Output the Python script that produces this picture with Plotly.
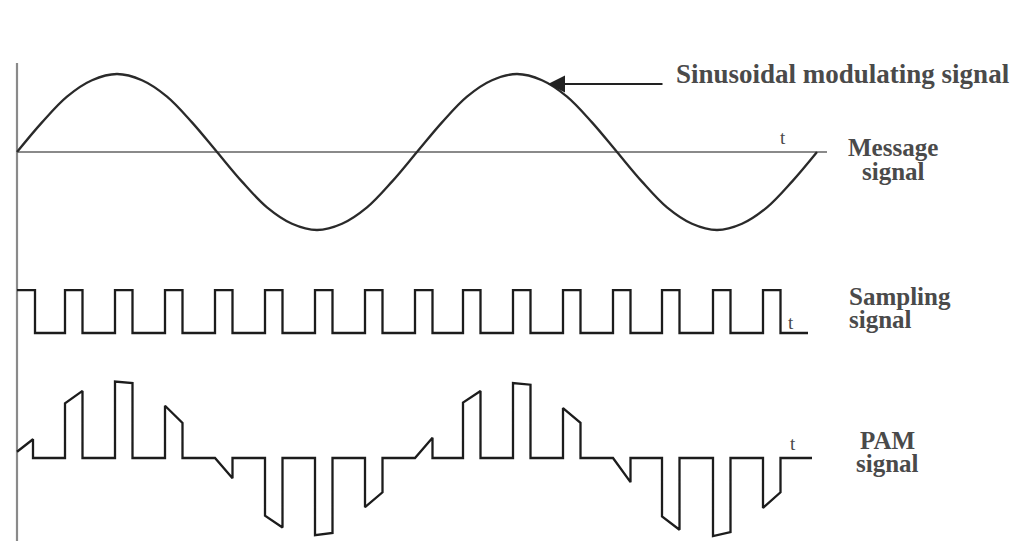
import plotly.graph_objects as go

# ---- data (time in sampling periods, amplitude in units of message peak) ----
MSG_T = [0, 0.5, 1, 1.5, 2, 2.5, 3, 3.5, 4, 4.5, 5, 5.5, 6, 6.5, 7, 7.5, 8,
         8.5, 9, 9.5, 10, 10.5, 11, 11.5, 12, 12.5, 13, 13.5, 14, 14.5, 15, 15.5, 16]
MSG_V = [0, 0.38, 0.71, 0.92, 1.0, 0.92, 0.71, 0.38, 0, -0.38, -0.71, -0.92, -1.0,
         -0.92, -0.71, -0.38, 0, 0.38, 0.71, 0.92, 1.0, 0.92, 0.71, 0.38, 0,
         -0.38, -0.71, -0.92, -1.0, -0.92, -0.71, -0.38, 0]

PULSE_START = [0, 0.96, 1.96, 2.96, 3.96, 4.96, 5.96, 6.96, 7.96, 8.92,
               9.92, 10.92, 11.92, 12.9, 13.92, 14.92]
PULSE_WIDTH = 0.35
SAMPLING_HIGH = 0.55
SAMPLING_END = 15.82

PAM_TOP_START = [0.08, 0.70, 0.98, 0.67, 0.0, -0.74, -0.99, -0.63,
                 0.0, 0.71, 0.96, 0.64, 0.0, -0.75, -1.0, -0.64]
PAM_TOP_END = [0.24, 0.86, 0.96, 0.45, -0.26, -0.89, -0.96, -0.44,
               0.26, 0.86, 0.94, 0.45, -0.31, -0.92, -0.95, -0.44]
PAM_END = 15.9

# ---- layout helpers ----
W, H = 1013, 541
PX_PER_T = 50.0
PX_PER_A = 78.0
X0_PX = 17
def tx(px):
    return (px - X0_PX) / PX_PER_T
def ay(py):
    return -py / PX_PER_A

MSG_OFF = ay(152)
SAMP_OFF = ay(333)
PAM_OFF = ay(458)

INK = "#1c1c1c"
GREY = "#8a8a8a"
TXT = "#4a4a4a"
SERIF = "Liberation Serif, Times New Roman, serif"

fig = go.Figure()

# vertical axis
fig.add_trace(go.Scatter(x=[0, 0], y=[ay(63), ay(541)], mode="lines",
                         line=dict(color=GREY, width=2.2), hoverinfo="skip"))
# message baseline
fig.add_trace(go.Scatter(x=[0, tx(827)], y=[MSG_OFF, MSG_OFF], mode="lines",
                         line=dict(color=GREY, width=1.8), hoverinfo="skip"))
# message sine
fig.add_trace(go.Scatter(x=MSG_T, y=[MSG_OFF + v for v in MSG_V], mode="lines",
                         line=dict(color="#2a2a2a", width=2.3, shape="spline", smoothing=1.0),
                         hoverinfo="skip"))

# sampling pulse train
sx, sy = [], []
for i, s in enumerate(PULSE_START):
    if i == 0:
        sx += [s, s + PULSE_WIDTH + 0.01, s + PULSE_WIDTH + 0.01]
        sy += [SAMPLING_HIGH, SAMPLING_HIGH, 0]
    else:
        sx += [s, s, s + PULSE_WIDTH, s + PULSE_WIDTH]
        sy += [0, SAMPLING_HIGH, SAMPLING_HIGH, 0]
sx.append(SAMPLING_END)
sy.append(0)
fig.add_trace(go.Scatter(x=sx, y=[SAMP_OFF + v for v in sy], mode="lines",
                         line=dict(color=INK, width=2.3), hoverinfo="skip"))

# PAM (natural sampling)
px_, py_ = [], []
for i, s in enumerate(PULSE_START):
    w = PULSE_WIDTH - (0.03 if i == 0 else 0)
    if i == 0:
        px_ += [s, s + w, s + w]
        py_ += [PAM_TOP_START[i], PAM_TOP_END[i], 0]
    else:
        px_ += [s, s, s + w, s + w]
        py_ += [0, PAM_TOP_START[i], PAM_TOP_END[i], 0]
px_.append(PAM_END)
py_.append(0)
fig.add_trace(go.Scatter(x=px_, y=[PAM_OFF + v for v in py_], mode="lines",
                         line=dict(color=INK, width=2.3), hoverinfo="skip"))

def label(text, xpx, ypx, size=25, anchor="left", weight="bold"):
    fig.add_annotation(x=xpx / W, y=1 - ypx / H, xref="paper", yref="paper",
                       text=text, showarrow=False, xanchor=anchor, yanchor="middle",
                       font=dict(family=SERIF, size=size, color=TXT, weight=weight))

label("Sinusoidal modulating signal", 674, 74, size=27)
label("Message", 893, 147, anchor="center")
label("signal", 893, 171, anchor="center")
label("Sampling", 847, 296)
label("signal", 847, 319)
label("PAM", 887, 440, anchor="center")
label("signal", 887, 463, anchor="center")
label("t", 783, 137, size=19, anchor="center", weight="normal")
label("t", 791, 322, size=19, anchor="center", weight="normal")
label("t", 793, 443, size=19, anchor="center", weight="normal")

# pointer arrow
fig.add_annotation(x=tx(548), y=ay(84), ax=tx(664), ay=ay(84), xref="x", yref="y",
                   axref="x", ayref="y", text="", showarrow=True, arrowhead=2,
                   arrowsize=1.7, arrowwidth=2, arrowcolor="#222", standoff=0)

fig.update_layout(width=W, height=H, margin=dict(l=0, r=0, t=0, b=0),
                  paper_bgcolor="white", plot_bgcolor="white", showlegend=False,
                  xaxis=dict(range=[tx(0), tx(W)], visible=False, fixedrange=True),
                  yaxis=dict(range=[ay(H), ay(0)], visible=False, fixedrange=True))

fig.write_html("out.html", config={"displayModeBar": False},
               post_script="document.body.style.margin='0px';document.body.style.overflow='hidden';")
